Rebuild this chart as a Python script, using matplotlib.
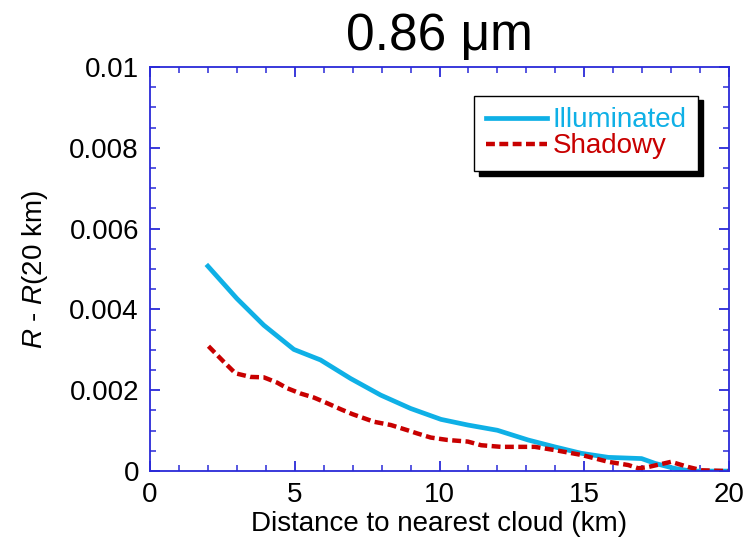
import numpy as np
import matplotlib
matplotlib.use("Agg")
import matplotlib.pyplot as plt
from matplotlib.ticker import MultipleLocator, FuncFormatter
from matplotlib.patches import Shadow

plt.rcParams["font.family"] = ["Liberation Sans", "DejaVu Sans"]
plt.rcParams["mathtext.fontset"] = "custom"
plt.rcParams["mathtext.rm"] = "Liberation Sans"
plt.rcParams["mathtext.it"] = "Liberation Sans:italic"

# Data
x_illum = [2.0, 3.0, 3.93, 4.97, 5.89, 6.93, 7.97, 9.0, 10.05, 10.98, 12.0,
           13.06, 13.98, 14.9, 15.83, 16.98, 17.45, 18.1, 18.7, 20.0]
y_illum = [0.00507, 0.00427, 0.00361, 0.00301, 0.00275, 0.00229, 0.00188,
           0.00155, 0.00128, 0.00114, 0.00101, 0.00077, 0.0006, 0.00044,
           0.00034, 0.00031, 0.00019, 0.00007, 0.0, 0.0]

x_shad = [2.02, 2.54, 2.95, 3.47, 3.93, 4.39, 4.74, 5.2, 5.66, 6.12, 6.59,
          6.99, 7.74, 8.32, 8.9, 9.24, 9.7, 10.28, 10.98, 11.44, 12.13, 13.29,
          13.98, 14.9, 15.83, 16.52, 16.87, 17.2, 18.0, 18.6, 19.06, 20.0]
y_shad = [0.00309, 0.00271, 0.00242, 0.00233, 0.00232, 0.00219, 0.00205,
          0.00192, 0.00182, 0.00168, 0.00153, 0.00141, 0.00122, 0.00114,
          0.00101, 0.00093, 0.00083, 0.00077, 0.00073, 0.00064, 0.0006,
          0.0006, 0.00052, 0.0004, 0.00023, 0.00015, 0.00007, 0.0001,
          0.00023, 0.0001, 0.00002, 0.0]

fig = plt.figure(figsize=(7.5, 5.44), dpi=100)
ax = fig.add_axes([0.2, 0.134, 0.772, 0.743])

ax.plot(x_illum, y_illum, color="#0fb0e6", lw=3.4, label="Illuminated",
        solid_joinstyle="round")
ax.plot(x_shad, y_shad, color="#c80000", lw=3.2, ls=(0, (2.0, 1.0)),
        label="Shadowy")

ax.set_xlim(0, 20)
ax.set_ylim(0, 0.01)
ax.xaxis.set_major_locator(MultipleLocator(5))
ax.xaxis.set_minor_locator(MultipleLocator(1))
ax.yaxis.set_major_locator(MultipleLocator(0.002))
ax.yaxis.set_minor_locator(MultipleLocator(0.0005))
ax.yaxis.set_major_formatter(FuncFormatter(lambda v, p: "%g" % round(v, 6)))
ax.xaxis.set_major_formatter(FuncFormatter(lambda v, p: "%g" % v))

axcol = "#2a2ad8"
for s in ax.spines.values():
    s.set_color(axcol)
    s.set_linewidth(1.3)
ax.tick_params(which="both", direction="in", top=True, right=True,
               color=axcol, labelsize=20, labelcolor="black")
ax.tick_params(which="major", length=7, width=1.3, pad=8)
ax.tick_params(which="minor", length=4, width=1.1)

ax.set_xlabel("Distance to nearest cloud (km)", fontsize=20, labelpad=2)
ax.set_ylabel("$R$ - $R$(20 km)", fontsize=20, labelpad=14)
ax.set_title("0.86 \u03bcm", fontsize=37, pad=12)

ax.patch.set_facecolor("none")
leg = ax.legend(loc="upper right", bbox_to_anchor=(0.947, 0.929),
                fontsize=20, handlelength=2.2, handletextpad=0.2,
                borderpad=0.42, labelspacing=0.0, borderaxespad=0.0,
                fancybox=False, shadow=False, framealpha=1,
                edgecolor="black")
leg.get_frame().set_linewidth(1.0)
for txt, line in zip(leg.get_texts(), leg.get_lines()):
    txt.set_color(line.get_color())

# black drop shadow under the legend box
fig.canvas.draw()
shadow = Shadow(leg.legendPatch, 3.5, -3.5, facecolor="black",
                edgecolor="black", alpha=1.0)
shadow.set_zorder(4.9)
ax.add_artist(shadow)

fig.savefig("out.png", dpi=100)
